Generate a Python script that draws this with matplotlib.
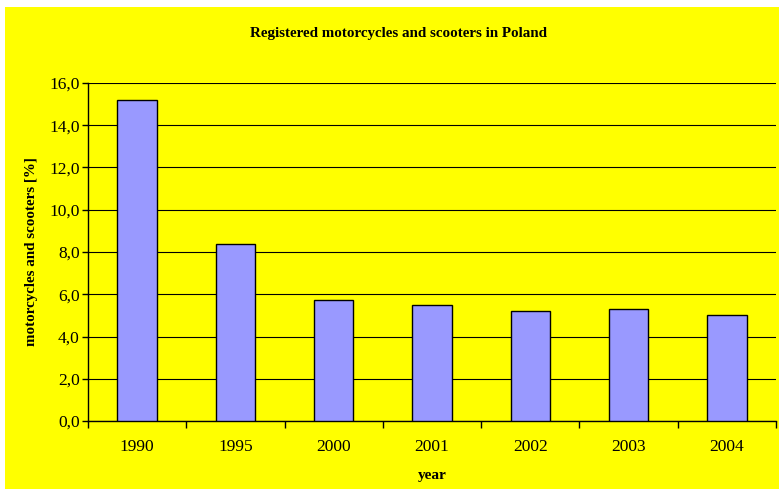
import matplotlib.pyplot as plt
import numpy as np
from matplotlib.patches import Rectangle
from matplotlib.ticker import FuncFormatter, MultipleLocator

years = ["1990", "1995", "2000", "2001", "2002", "2003", "2004"]
share = [15.2, 8.4, 5.75, 5.5, 5.2, 5.3, 5.0]

plt.rcParams['font.family'] = ['Liberation Serif', 'DejaVu Serif']

fig = plt.figure(figsize=(7.79, 4.90), dpi=100)
fig.patch.set_facecolor('white')
# yellow chart area
fig.patches.append(Rectangle((5 / 779, 0.002), 774 / 779, 1 - 7 / 490 - 0.002,
                             transform=fig.transFigure, facecolor='#FFFF00',
                             edgecolor='none', zorder=-1))

ax = fig.add_axes([88 / 779, (490 - 421) / 490, (776 - 88) / 779, (421 - 83) / 490])
ax.set_facecolor('#FFFF00')

x = np.arange(len(years))
ax.bar(x, share, width=0.4, color='#9999FF', edgecolor='black', linewidth=1, zorder=3)

ax.set_xlim(-0.5, len(years) - 0.5)
ax.set_ylim(0, 16)
ax.yaxis.set_major_locator(MultipleLocator(2))
ax.yaxis.set_major_formatter(FuncFormatter(lambda v, p: f"{v:.1f}".replace('.', ',')))
ax.grid(axis='y', color='black', linewidth=0.8, zorder=0)

ax.set_xticks(x)
ax.set_xticklabels(years, fontsize=12.5)
ax.set_xticks(np.arange(-0.5, len(years)), minor=True)
ax.tick_params(axis='x', which='major', length=0, pad=13)
ax.tick_params(axis='x', which='minor', length=5, width=1, color='black')
ax.tick_params(axis='y', length=4, width=1, labelsize=12.5, pad=2)

for s in ['top', 'right']:
    ax.spines[s].set_visible(False)
ax.spines['left'].set_linewidth(1)
ax.spines['bottom'].set_linewidth(1)

ax.set_xlabel("year", fontsize=11, fontweight='bold', labelpad=10)
ax.set_ylabel("motorcycles and scooters [%]", fontsize=10.8, fontweight='bold', labelpad=8)
fig.text(398 / 779, 1 - 33 / 490, "Registered motorcycles and scooters in Poland",
         ha='center', va='center', fontsize=10.8, fontweight='bold')

fig.savefig("out.png", dpi=100)
